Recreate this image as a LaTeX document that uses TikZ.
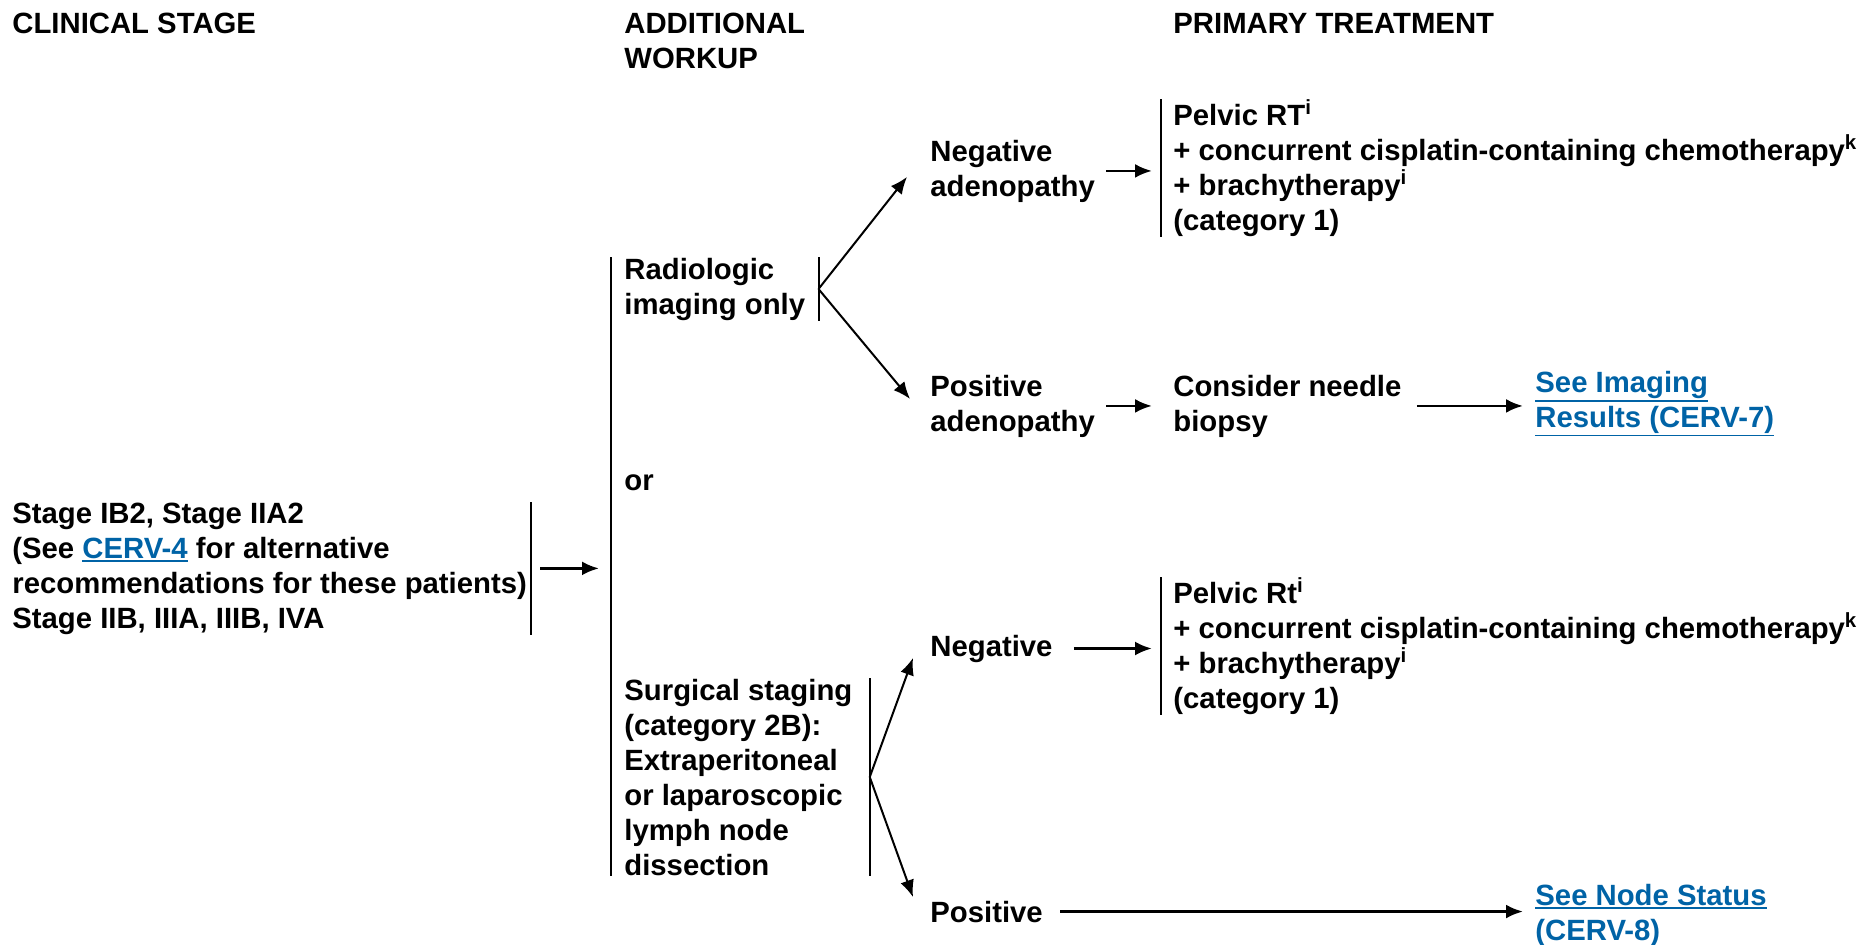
\documentclass[tikz,border=0pt]{standalone}
\usepackage{fontspec}
\setmainfont{Liberation Sans}
\usepackage{xcolor}
\usetikzlibrary{arrows.meta, positioning, calc}

\definecolor{linkblue}{RGB}{0,99,166}
\newcommand{\lnk}[1]{\textcolor{linkblue}{\setbox0=\hbox{#1}%
	\rlap{\vrule width\wd0 height-\dimexpr\dp0+0.8pt\relax depth\dimexpr\dp0+1.7pt\relax}\box0}}

\tikzset{
	txt/.style={anchor=base west, inner sep=0pt, align=left,
		font=\fontsize{14.65}{17.5}\selectfont\bfseries},
	brk/.style={line width=1pt},
	arr/.style={->, line width=1.4pt},
	darr/.style={->, line width=1pt},
}

\begin{document}
\begin{tikzpicture}[x=0.5pt, y=-0.5pt, >={Latex[length=8.5pt,width=7pt]}]
		\useasboundingbox (0,0) rectangle (1863,944);

		\node[txt] (hstage) at (12,33) {CLINICAL STAGE};
		\node[txt] (hwork) at (624,68) {ADDITIONAL\\WORKUP};
		\node[txt] (htreat) at (1173,33) {PRIMARY TREATMENT};

		\node[txt] (stage) at (12,628) {Stage IB2, Stage IIA2\\(See \lnk{CERV-4} for alternative\\recommendations for these patients)\\Stage IIB, IIIA, IIIB, IVA};

		\node[txt] (radio) at (624,314) {Radiologic\\imaging only};
		\node[txt] (orw) at (624,490) {or};
		\node[txt] (surg) at (624,875) {Surgical staging\\(category 2B):\\Extraperitoneal\\or laparoscopic\\lymph node\\dissection};

		\node[txt] (negad) at (930,196) {Negative\\adenopathy};
		\node[txt] (posad) at (930,431) {Positive\\adenopathy};
		\node[txt] (neg) at (930,656) {Negative};
		\node[txt] (pos) at (930,922) {Positive};

		\node[txt] (tx1) at (1173,230) {Pelvic RT\textsuperscript{i}\\+ concurrent cisplatin-containing chemotherapy\textsuperscript{k}\\+ brachytherapy\textsuperscript{i}\\(category 1)};
		\node[txt] (needle) at (1173,431) {Consider needle\\biopsy};
		\node[txt] (tx2) at (1173,708) {Pelvic Rt\textsuperscript{i}\\+ concurrent cisplatin-containing chemotherapy\textsuperscript{k}\\+ brachytherapy\textsuperscript{i}\\(category 1)};

		\node[txt] (imgres) at (1535,427) {\lnk{See Imaging}\\\lnk{Results (CERV-7)}};
		\node[txt] (nodest) at (1535,940) {\lnk{See Node Status}\\\lnk{(CERV-8)}};

		\draw[brk] ([xshift=2pt]stage.north east) -- ([xshift=2pt]stage.south east);
		\draw[brk] ([xshift=-6.5pt]radio.north west) -- ([xshift=-6.5pt]surg.south west);
		\draw[brk] ([xshift=6.5pt]radio.north east) -- ([xshift=6.5pt]radio.south east);
		\draw[brk] ([xshift=8.5pt]surg.north east) -- ([xshift=8.5pt]surg.south east);
		\draw[brk] ([xshift=-6pt]tx1.north west) -- ([xshift=-6pt]tx1.south west);
		\draw[brk] ([xshift=-6pt]tx2.north west) -- ([xshift=-6pt]tx2.south west);

		\draw[arr, shorten <=6.5pt, shorten >=12.5pt] (stage.east) -- (stage.east -| radio.west);
		\draw[darr] ([xshift=6.5pt]radio.east) -- ($(negad.west)+(-23,6)$);
		\draw[darr] ([xshift=6.5pt]radio.east) -- ($(posad.west)+(-20,-7)$);
		\draw[darr] ([xshift=8.5pt]surg.east) -- ($(neg.west)+(-17,9.5)$);
		\draw[darr] ([xshift=8.5pt]surg.east) -- ($(pos.west)+(-17,-14.5)$);
		\draw[arr, shorten <=5.5pt, shorten >=10.5pt] (negad.east) -- (negad.east -| tx1.west);
		\draw[arr, shorten <=5.5pt, shorten >=10.5pt] (posad.east) -- (posad.east -| needle.west);
		\draw[arr, shorten <=7.5pt, shorten >=6pt] (needle.east) -- (needle.east -| imgres.west);
		\draw[arr, shorten <=10.5pt, shorten >=10.5pt] (neg.east) -- (neg.east -| tx2.west);
		\draw[arr, shorten <=8.5pt, shorten >=6pt] (pos.east) -- (pos.east -| nodest.west);

	\end{tikzpicture}
\end{document}
